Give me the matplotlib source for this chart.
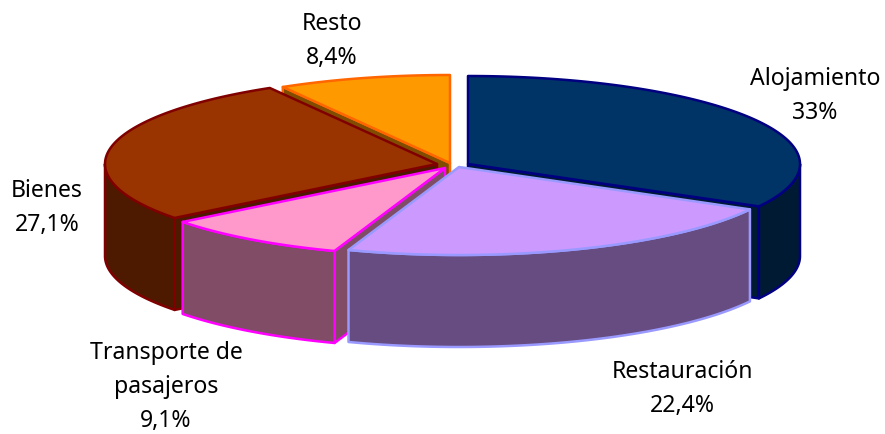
import numpy as np
import matplotlib
matplotlib.use("Agg")
import matplotlib.pyplot as plt
from matplotlib.patches import Polygon

# Data
categories = ["Alojamiento", "Restauración", "Transporte de\npasajeros", "Bienes", "Resto"]
value_labels = ["33%", "22,4%", "9,1%", "27,1%", "8,4%"]
values = [33.0, 22.4, 9.1, 27.1, 8.4]

# Style / layout
top_colors = ["#003366", "#CC99FF", "#FF99CC", "#993300", "#FF9900"]
side_colors = ["#001A33", "#664C80", "#804C66", "#4D1A00", "#804C00"]
edge_colors = ["#000080", "#9999FF", "#FF00FF", "#800000", "#FF6600"]
apexes = [(468, 164), (459, 167), (445, 168), (437, 164), (450, 163)]
label_xy = [(815, 96), (682, 389), (166, 387), (47, 208), (332, 41)]
draw_order = [4, 3, 0, 2, 1]
RX, RY, DEPTH = 332, 88, 92
LW = 1.8

plt.rcParams["font.family"] = ["Noto Sans", "DejaVu Sans"]
fig = plt.figure(figsize=(8.85, 4.34), dpi=100)
ax = fig.add_axes([0, 0, 1, 1])
ax.set_xlim(0, 885)
ax.set_ylim(434, 0)
ax.axis("off")

fractions = np.array(values) / sum(values)
ends = np.cumsum(fractions) * 2 * np.pi
starts = np.concatenate([[0], ends[:-1]])


def rim(apex, t):
    return np.column_stack([apex[0] + RX * np.sin(t), apex[1] - RY * np.cos(t)])


def face(pts, fc, ec, z):
    ax.add_patch(Polygon(pts, closed=True, facecolor=fc, edgecolor=ec,
                         linewidth=LW, joinstyle="round", zorder=z))


for z, i in enumerate(draw_order):
    a0, a1 = starts[i], ends[i]
    apex = np.array(apexes[i], float)
    down = np.array([0, DEPTH])
    base = z * 10
    # radial walls that face the viewer
    for ang, normal in ((a0, a0 - np.pi / 2), (a1, a1 + np.pi / 2)):
        if np.cos(normal) < -1e-6:
            p = rim(apex, np.array([ang]))[0]
            face([apex, p, p + down, apex + down], side_colors[i], edge_colors[i], base + 1)
    # outer wall (front half of the rim)
    lo, hi = max(a0, np.pi / 2), min(a1, 3 * np.pi / 2)
    if hi > lo:
        arc = rim(apex, np.linspace(lo, hi, 120))
        face(np.vstack([arc, arc[::-1] + down]), side_colors[i], edge_colors[i], base + 2)
    # top face
    arc = rim(apex, np.linspace(a0, a1, 240))
    face(np.vstack([apex, arc]), top_colors[i], edge_colors[i], base + 3)

for cat, val, (x, y) in zip(categories, value_labels, label_xy):
    ax.text(x, y, f"{cat}\n{val}", ha="center", va="center", fontsize=16.6,
            color="black", linespacing=1.56, zorder=100)

fig.savefig("out.png", dpi=100, facecolor="white")
